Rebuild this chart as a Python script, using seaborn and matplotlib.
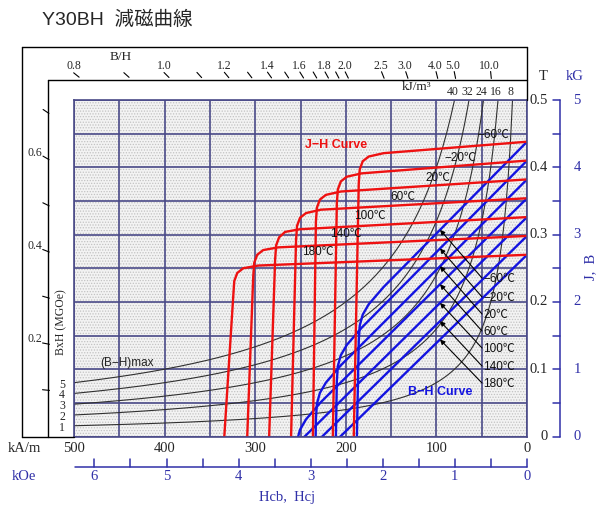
import numpy as np
import pandas as pd
import matplotlib
matplotlib.use("Agg")
import matplotlib.pyplot as plt
import seaborn as sns
from matplotlib.lines import Line2D
from matplotlib.patches import Rectangle, FancyArrowPatch

# ---------------- data ----------------
temps = ["−60℃", "−20℃", "20℃", "60℃", "100℃", "140℃", "180℃"]
# J-H curves (H in kA/m, J in T)
jh_H = [
    [0, 158.2, 174.7, 181.3, 184.6, 185.7, 191.2],
    [0, 182.4, 198.9, 205.5, 208.8, 209.9, 214.3],
    [0, 205.5, 222.0, 228.6, 231.9, 233.0, 236.3],
    [0, 227.4, 243.9, 250.5, 253.8, 254.9, 260.4],
    [0, 250.5, 267.0, 273.6, 276.9, 278.0, 284.6],
    [0, 274.7, 291.2, 297.8, 301.1, 302.2, 308.8],
    [0, 296.7, 313.2, 319.8, 323.1, 324.2, 334.1],
]
jh_J = [
    [0.438, 0.421, 0.416, 0.409, 0.397, 0.376, 0.0],
    [0.410, 0.391, 0.386, 0.379, 0.367, 0.346, 0.0],
    [0.382, 0.364, 0.359, 0.352, 0.340, 0.319, 0.0],
    [0.354, 0.337, 0.332, 0.325, 0.313, 0.292, 0.0],
    [0.326, 0.308, 0.304, 0.296, 0.284, 0.263, 0.0],
    [0.298, 0.281, 0.277, 0.270, 0.258, 0.237, 0.0],
    [0.270, 0.254, 0.250, 0.243, 0.231, 0.209, 0.0],
]
MU0 = 4 * np.pi * 1e-4          # T per kA/m

energy_kJ = [8, 16, 24, 32, 40]  # iso-energy lines (kJ/m^3)
energy_MGOe = ["1", "2", "3", "4", "5"]

bh_ticks = [0.8, 0.9, 1.0, 1.1, 1.2, 1.3, 1.4, 1.5, 1.6, 1.7, 1.8, 1.9, 2.0, 2.5, 3.0, 4.0, 5.0, 10.0]
bh_labels = ["0.8", "1.0", "1.2", "1.4", "1.6", "1.8", "2.0", "2.5", "3.0", "4.0", "5.0", "10.0"]
left_bh_ticks = [0.1, 0.2, 0.3, 0.4, 0.5, 0.6, 0.7]
left_bh_labels = ["0.2", "0.4", "0.6"]

kam_ticks = [500, 400, 300, 200, 100, 0]
koe_ticks = [0, 0.5, 1, 1.5, 2, 2.5, 3, 3.5, 4, 4.5, 5, 5.5, 6]
koe_labels = [6, 5, 4, 3, 2, 1, 0]
tesla_ticks = [0, 0.05, 0.1, 0.15, 0.2, 0.25, 0.3, 0.35, 0.4, 0.45, 0.5]
tesla_labels = ["0", "0.1", "0.2", "0.3", "0.4", "0.5"]

# ---------------- figure ----------------
sns.set_theme(style="white")
plt.rcParams["font.family"] = ["Liberation Sans", "Noto Sans CJK JP"]
plt.rcParams["hatch.linewidth"] = 0.6
SERIF = ["Liberation Serif", "DejaVu Serif"]
SANS = ["Liberation Sans", "Noto Sans CJK JP"]

W, HP = 610, 517
fig = plt.figure(figsize=(6.1, 5.17), dpi=100)

def fx(x):
    return x / W

def fy(y):
    return 1 - y / HP

GX0, GX1, GY0, GY1 = 74, 527, 100, 436.5
ax = fig.add_axes([fx(GX0), fy(GY1), (GX1 - GX0) / W, (GY1 - GY0) / HP])

def px_x(H):
    return GX0 + (500 - H) / 500 * (GX1 - GX0)

def px_y(B):
    return GY1 - B / 0.5 * (GY1 - GY0)

GRID = "#4a4a88"
RED = "#ee1111"
BLUE = "#1414e0"
AXBLUE = "#3030a8"

# background stipple
ax.add_patch(Rectangle((0, 0), 1, 1, transform=ax.transAxes, facecolor="#f3f3f3",
                       edgecolor="#c2c2c2", hatch="......", lw=0, zorder=0))
ax.set_xlim(500, 0)
ax.set_ylim(0, 0.5)
ax.set_xticks(np.arange(0, 501, 50))
ax.set_yticks(np.arange(0, 0.501, 0.05))
ax.grid(True, color=GRID, lw=1.2)
ax.set_axisbelow(True)
ax.tick_params(length=0, labelbottom=False, labelleft=False)
for s in ax.spines.values():
    s.set_color(GRID)
    s.set_linewidth(1.2)

# energy product curves
rows = []
for E in energy_kJ:
    Hs = np.linspace(E / 0.5, 500, 200)
    for h in Hs:
        rows.append({"E": E, "H": h, "B": E / h})
df_e = pd.DataFrame(rows)
sns.lineplot(data=df_e, x="H", y="B", units="E", estimator=None, sort=False,
             color="#303030", lw=0.8, ax=ax, legend=False)

# J-H and B-H curves
rows_j, rows_b = [], []
for t, hs, js in zip(temps, jh_H, jh_J):
    for h, j in zip(hs, js):
        rows_j.append({"T": t, "H": h, "J": j})
        rows_b.append({"T": t, "H": h, "B": j - MU0 * h})
df_j = pd.DataFrame(rows_j)
df_b = pd.DataFrame(rows_b)
sns.lineplot(data=df_b, x="H", y="B", units="T", estimator=None, sort=False,
             color=BLUE, lw=1.7, ax=ax, legend=False)
sns.lineplot(data=df_j, x="H", y="J", units="T", estimator=None, sort=False,
             color=RED, lw=1.7, ax=ax, legend=False)
ax.set_xlabel("")
ax.set_ylabel("")

# text helpers (pixel coordinates)
def ptext(x, y, s, **kw):
    kw.setdefault("ha", "center")
    kw.setdefault("va", "center")
    fig.text(fx(x), fy(y), s, **kw)

def pline(xs, ys, **kw):
    fig.add_artist(Line2D([fx(v) for v in xs], [fy(v) for v in ys], **kw))

# J-H temperature labels
jl_pos = [(493, 135), (460, 158), (438, 178), (403, 197), (370, 216), (346, 234), (318, 252)]
for t, (x, y) in zip(temps, jl_pos):
    ptext(x, y, t, fontsize=8.5, family=SANS, color="#111111")

# B-H temperature labels with arrows
bl_y = [279, 298, 315, 332, 349, 367, 384]
H_arrow = 96
for t, hs, js, y in zip(temps, jh_H, jh_J, bl_y):
    Bs = np.array(js) - MU0 * np.array(hs)
    b_head = np.interp(H_arrow, hs, Bs)
    ptext(483, y, t, fontsize=8.5, family=SANS, color="#111111", ha="left")
    arr = FancyArrowPatch((fx(482), fy(y - 1)), (fx(px_x(H_arrow)), fy(px_y(b_head))),
                          transform=fig.transFigure, arrowstyle="-|>", mutation_scale=7,
                          lw=0.8, color="black", shrinkA=0, shrinkB=0)
    fig.add_artist(arr)

ptext(336, 145, "J−H Curve", fontsize=9, family=SANS, color=RED, fontweight="bold")
ptext(440, 392, "B−H Curve", fontsize=9, family=SANS, color=BLUE, fontweight="bold")
ptext(127, 363, "(B−H)max", fontsize=8.5, family=SANS, color="#222222")

# energy labels
for E, lab in zip(energy_kJ, energy_MGOe):
    ptext(62, px_y(E / 500) + 2, lab, fontsize=8.5, family=SERIF)
    ptext(px_x(E / 0.5) - 2, 92, str(E), fontsize=8.5, family=SERIF)
ptext(417, 87, "kJ/m³", fontsize=9.5, family=SERIF)
ptext(61, 322, "BxH (MGOe)", fontsize=8.5, family=SERIF, rotation=90)

# frames
K = "black"
pline([22, 527], [47, 47], color=K, lw=1)
pline([22, 22], [47, GY1], color=K, lw=1)
pline([527, 527], [47, GY0], color=K, lw=1)
pline([48, 527], [80, 80], color=K, lw=1)
pline([48, 48], [80, GY1], color=K, lw=1)
pline([22, GX0], [GY1, GY1], color=K, lw=1)

# top B/H scale
ox, oy = GX1, GY1
def slant_tick(xc, yc, L=7):
    dx, dy = ox - xc, oy - yc
    n = np.hypot(dx, dy)
    ux, uy = dx / n * L / 2, dy / n * L / 2
    pline([xc - ux, xc + ux], [yc - uy, yc + uy], color=K, lw=0.8)

for p in bh_ticks:
    H = 5000.0 / p * 0.0795775
    slant_tick(px_x(H), 75)
for lab in bh_labels:
    p = float(lab)
    H = 5000.0 / p * 0.0795775
    ptext(px_x(H) - 2, 66, lab, fontsize=8.5, family=SERIF)
ptext(121, 57, "B/H", fontsize=9.5, family=SERIF)

# left B/H scale
for p in left_bh_ticks:
    slant_tick(46, px_y(p * 0.69))
for lab in left_bh_labels:
    p = float(lab)
    ptext(35, px_y(p * 0.69) - 5, lab, fontsize=8.5, family=SERIF)

# bottom kA/m labels
for v in kam_ticks:
    ptext(px_x(v), 449, str(v), fontsize=10.5, family=SERIF)
ptext(24, 449, "kA/m", fontsize=10.5, family=SERIF)

# kOe axis
pline([GX0 + 1, GX1], [467, 467], color=AXBLUE, lw=1.1)
for k in koe_ticks:
    xx = px_x(k * 79.5775)
    pline([xx, xx], [459, 467], color=AXBLUE, lw=1.1)
for k in koe_labels:
    ptext(px_x(k * 79.5775), 477, str(k), fontsize=10.5, family=SERIF, color=AXBLUE)
ptext(24, 477, "kOe", fontsize=10.5, family=SERIF, color=AXBLUE)
ptext(287, 498, "Hcb,  Hcj", fontsize=10.5, family=SERIF, color=AXBLUE)

# right axis
pline([560, 560], [GY0, GY1], color=AXBLUE, lw=1.1)
for b in tesla_ticks:
    pline([553, 560], [px_y(b), px_y(b)], color=AXBLUE, lw=1.1)
for lab in tesla_labels:
    b = float(lab)
    ptext(548, px_y(b), lab, fontsize=10.5, family=SERIF, ha="right")
    ptext(577, px_y(b), str(int(round(b * 10))), fontsize=10.5, family=SERIF, color=AXBLUE)
ptext(543, 77, "T", fontsize=10.5, family=SERIF)
ptext(575, 77, "kG", fontsize=10.5, family=SERIF, color=AXBLUE)
ptext(591, 267, "J,  B", fontsize=10.5, family=SERIF, color=AXBLUE, rotation=90)

# title
ptext(42, 20, "Y30BH  減磁曲線", fontsize=14, family=SANS, ha="left")

fig.savefig("out.png", dpi=100)
